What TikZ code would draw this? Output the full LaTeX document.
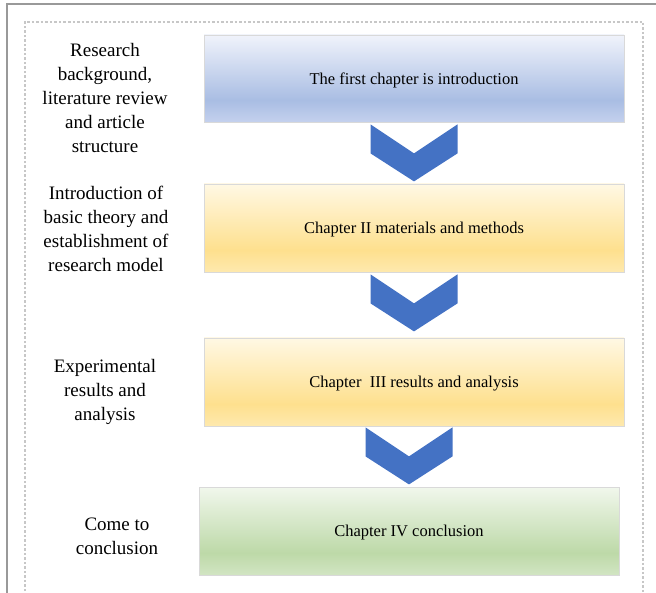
\documentclass[tikz,border=0pt]{standalone}
\usepackage{fontspec}
\setmainfont{Liberation Serif}
\newfontfamily\lserif{Liberation Serif}
\definecolor{btop}{HTML}{F0F3FB}\definecolor{bmid}{HTML}{A9BDE3}\definecolor{bbot}{HTML}{C4D1EE}
\definecolor{ytop}{HTML}{FFF8E4}\definecolor{ymid}{HTML}{FEE08E}\definecolor{ybot}{HTML}{FEE9AE}
\definecolor{gtop}{HTML}{F1F7EC}\definecolor{gmid}{HTML}{BDD9A8}\definecolor{gbot}{HTML}{D2E5C3}
\definecolor{chev}{HTML}{4472C4}
\definecolor{boxline}{HTML}{D9D9D9}
\pgfdeclareverticalshading{blueshade}{100bp}{color(0bp)=(bbot); color(25bp)=(bbot); color(37.5bp)=(bmid); color(75bp)=(btop); color(100bp)=(btop)}
\pgfdeclareverticalshading{yellowshade}{100bp}{color(0bp)=(ybot); color(25bp)=(ybot); color(37.5bp)=(ymid); color(75bp)=(ytop); color(100bp)=(ytop)}
\pgfdeclareverticalshading{greenshade}{100bp}{color(0bp)=(gbot); color(25bp)=(gbot); color(37.5bp)=(gmid); color(75bp)=(gtop); color(100bp)=(gtop)}
\tikzset{
  chapbox/.style={draw=boxline, line width=0.8pt, minimum width=420pt, minimum height=88pt, inner sep=0pt,
    font=\lserif\fontsize{16.5}{20}\selectfont, text=black},
  boxtext/.style={inner sep=0pt, font=\lserif\fontsize{16.5}{20}\selectfont, text=black},
  sidelabel/.style={align=center, font={\fontspec{Liberation Serif}\fontsize{19}{24}\selectfont}, text=black, inner sep=0pt},
  chevshape/.style={fill=chev, draw=none},
  outerline/.style={draw=black!40, line width=1.5pt},
  dashframe/.style={draw=black!22, line width=1.3pt, dash pattern=on 2.5pt off 2pt}
}
\begin{document}
\begin{tikzpicture}[x=1pt,y=-1pt]
\useasboundingbox (0,0) rectangle (656,593);
% frames
\draw[outerline] (656,4) -- (7,4) -- (7,593);
\draw[dashframe] (25,600) -- (25,22) -- (643,22) -- (643,600);
% boxes
\node[chapbox, shading=blueshade, minimum height=87pt] (b1) at (414,78.5) {};
\node[chapbox, shading=yellowshade] (b2) at (414,228) {};
\node[chapbox, shading=yellowshade] (b3) at (414,382) {};
\node[chapbox, shading=greenshade] (b4) at (409,531) {};
\node[boxtext] (t1) at ([yshift=-2pt]b1.center) {The first chapter is introduction};
\node[boxtext] (t2) at ([yshift=-2pt]b2.center) {Chapter II materials and methods};
\node[boxtext] (t3) at ([yshift=-2pt]b3.center) {Chapter\ \ III results and analysis};
\node[boxtext] (t4) at ([yshift=-2pt]b4.center) {Chapter IV conclusion};
% chevrons
\coordinate (c1) at ([yshift=-2pt]b1.south);
\coordinate (c2) at ([yshift=-2pt]b2.south);
\coordinate (c3) at ([yshift=-1pt,xshift=-5pt]b3.south);
\foreach \c in {c1,c2,c3}{
  \fill[chevshape] (\c) ++(-43.5,0) -- ++(43.5,29) -- ++(43.5,-29) -- ++(0,29) -- ++(-43.5,28) -- ++(-43.5,-28) -- cycle;
}
% side labels
\node[sidelabel] (l1) at (105,98) {Research\\background,\\literature review\\and article\\structure};
\node[sidelabel] (l2) at (106,229) {Introduction of\\basic theory and\\establishment of\\research model};
\node[sidelabel] (l3) at (105,392) {Experimental\\results and\\analysis};
\node[sidelabel] (l4) at (117,536) {Come to\\conclusion};
\end{tikzpicture}
\end{document}
